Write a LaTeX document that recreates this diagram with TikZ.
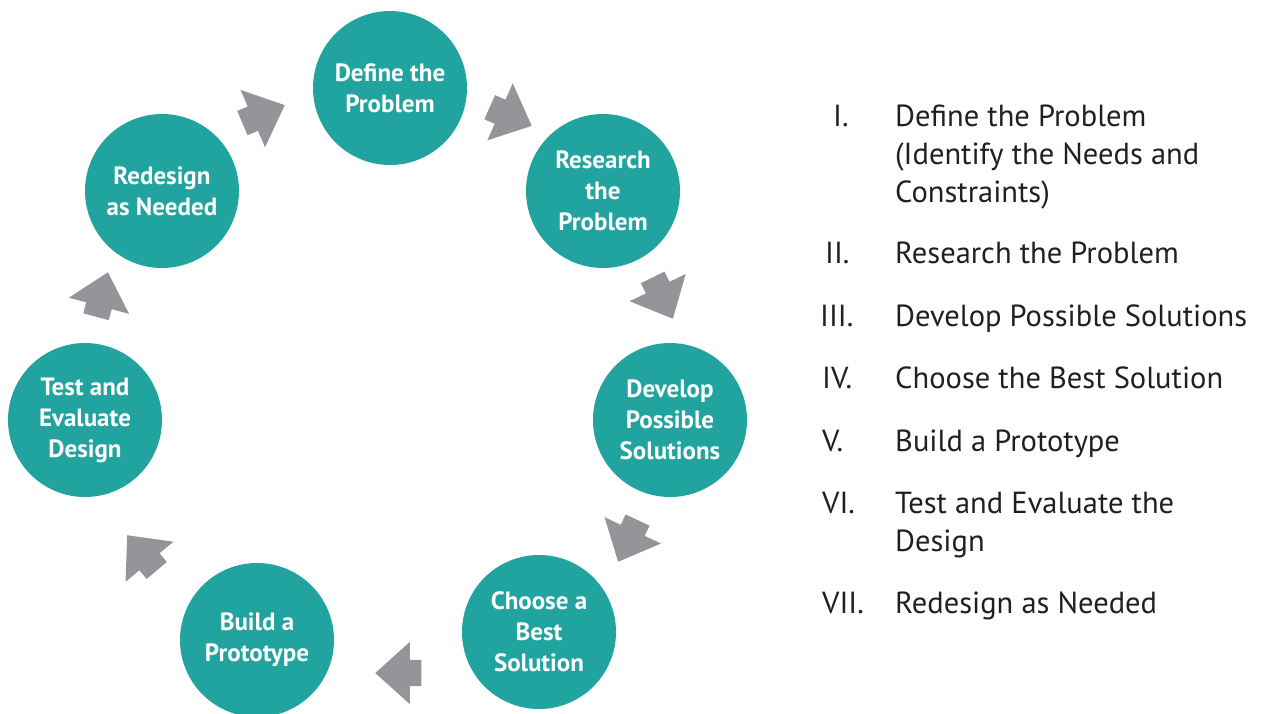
\documentclass[tikz,border=0pt]{standalone}
\usepackage{fontspec}
\setmainfont{PT Sans}
\usetikzlibrary{shapes.arrows}

\definecolor{stepteal}{HTML}{21A39F}
\definecolor{arrowgray}{HTML}{939598}
\definecolor{listtext}{HTML}{231F20}

\tikzset{
	stage/.style={circle, fill=stepteal, text=white, minimum size=154pt,
		inner sep=0pt, align=center,
		font=\fontsize{25}{31}\selectfont\bfseries},
	turn/.style={single arrow, fill=arrowgray, minimum height=46pt,
		inner xsep=0pt, inner ysep=13pt, single arrow head extend=18pt,
		single arrow tip angle=84, anchor=tip},
	numeral/.style={anchor=base west, inner sep=0pt, text=listtext,
		font=\fontsize{30.5}{38}\selectfont},
	item/.style={anchor=base west, inner sep=0pt, align=left, text=listtext,
		font=\fontsize{30.5}{38}\selectfont},
}

\begin{document}
\begin{tikzpicture}[x=1pt, y=-1pt]
	\useasboundingbox (0,0) rectangle (1267,713);

	% the cycle
	\node[stage] (define) at (390,88) {Define the\\Problem};
	\node[stage] (research) at (603,191) {Research\\the\\Problem};
	\node[stage] (develop) at (670,420) {Develop\\Possible\\Solutions};
	\node[stage] (choose) at (539,632) {Choose a\\Best\\Solution};
	\node[stage] (build) at (257,640) {Build a\\Prototype};
	\node[stage] (test) at (85,420) {Test and\\Evaluate\\Design};
	\node[stage] (redesign) at (162,191) {Redesign\\as Needed};

	% arrows between the stages
	\node[turn, rotate=23] (t1) at (285,105) {};
	\node[turn, rotate=-24] (t2) at (532,126) {};
	\node[turn, rotate=-64] (t3) at (673,319) {};
	\node[turn, rotate=-115] (t4) at (618,562) {};
	\node[turn, rotate=180] (t5) at (375,673) {};
	\node[turn, rotate=130] (t6) at (127,535) {};
	\node[turn, rotate=75] (t7) at (108,272) {};

	% the list (multi-line items sit on their last baseline)
	\node[numeral] (n1) at (833,126) {I.};
	\node[item] (i1) at (895,202) {Define the Problem\\(Identify the Needs and\\Constraints)};
	\node[numeral] (n2) at (825,263) {II.};
	\node[item] (i2) at (895,263) {Research the Problem};
	\node[numeral] (n3) at (820,326) {III.};
	\node[item] (i3) at (895,326) {Develop Possible Solutions};
	\node[numeral] (n4) at (822,388) {IV.};
	\node[item] (i4) at (895,388) {Choose the Best Solution};
	\node[numeral] (n5) at (822,451) {V.};
	\node[item] (i5) at (895,451) {Build a Prototype};
	\node[numeral] (n6) at (822,513) {VI.};
	\node[item] (i6) at (895,551) {Test and Evaluate the\\Design};
	\node[numeral] (n7) at (822,613) {VII.};
	\node[item] (i7) at (895,613) {Redesign as Needed};
\end{tikzpicture}
\end{document}
